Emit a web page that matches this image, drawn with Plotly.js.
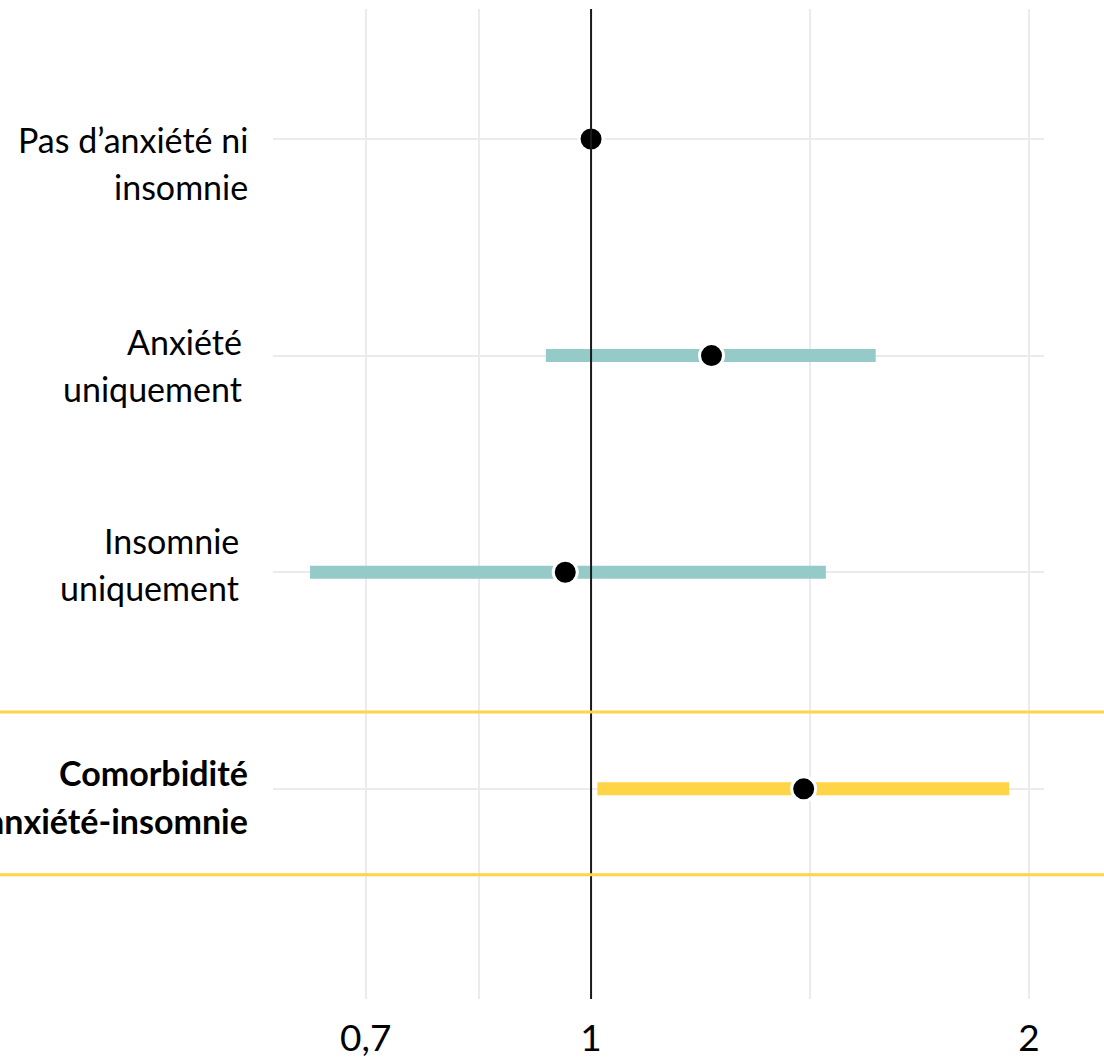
<!DOCTYPE html>
<html>
<head>
<meta charset="utf-8">
<script src="https://cdn.plot.ly/plotly-3.0.1.min.js"></script>
<style>html,body{margin:0;padding:0;background:#fff;}#chart{width:1104px;height:1060px;}</style>
</head>
<body>
<div id="chart"></div>
<script>
// ---- data ----
const categories = ['Pas d’anxiété ni insomnie', 'Anxiété uniquement', 'Insomnie uniquement', 'Comorbidité anxiété-insomnie'];
const labelLine1 = ['Pas d’anxiété ni', 'Anxiété', 'Insomnie', 'Comorbidité'];
const labelLine2 = ['insomnie', 'uniquement', 'uniquement', 'anxiété-insomnie'];
const orValue = [1.00, 1.21, 0.96, 1.40];
const ciLow  = [null, 0.931, 0.641, 1.010];
const ciHigh = [null, 1.569, 1.450, 1.938];
const highlighted = [false, false, false, true];
const xTickVals = [0.7, 0.837, 1, 1.414, 2];
const xTickText = ['0,7', '', '1', '', '2'];

// ---- style ----
const TEAL = '#94CAC8', YELLOW = '#FFD447';
const labelXShift = [2, -4, -7, 2];
const line1YShift = [-1, 14, 32, 16];
const line2YShift = [-48, -33, -15, -32];

function ciTrace(sel, color) {
  const xs = [], ys = [];
  categories.forEach((c, i) => {
    if (ciLow[i] == null || !sel(i)) return;
    xs.push(ciLow[i], ciHigh[i], null);
    ys.push(c, c, null);
  });
  return {type: 'scatter', mode: 'lines', x: xs, y: ys,
    line: {color: color, width: 13}, hoverinfo: 'skip', showlegend: false};
}

const traces = [
  ciTrace(i => !highlighted[i], TEAL),
  ciTrace(i => highlighted[i], YELLOW),
  {type: 'scatter', mode: 'lines', x: [1, 1], y: [0, 1], yaxis: 'y2',
   line: {color: '#1a1a1a', width: 2}, hoverinfo: 'skip', showlegend: false},
  {type: 'scatter', mode: 'markers', x: orValue, y: categories,
   marker: {color: '#000', size: 24, line: {color: '#fff', width: 3}},
   showlegend: false}
];

const annotations = [];
categories.forEach((c, i) => {
  const font = {family: 'Lato, sans-serif', size: 34, color: '#000'};
  const t1 = highlighted[i] ? '<b>' + labelLine1[i] + '</b>' : labelLine1[i];
  const t2 = highlighted[i] ? '<b>' + labelLine2[i] + '</b>' : labelLine2[i];
  annotations.push({xref: 'paper', yref: 'y', x: -0.032, y: c, text: t1, showarrow: false,
    xanchor: 'right', yanchor: 'middle', xshift: labelXShift[i], yshift: line1YShift[i], font: font});
  annotations.push({xref: 'paper', yref: 'y', x: -0.032, y: c, text: t2, showarrow: false,
    xanchor: 'right', yanchor: 'middle', xshift: labelXShift[i], yshift: line2YShift[i], font: font});
});

const shapes = [];
const hiIdx = highlighted.indexOf(true);
[hiIdx - 0.355, hiIdx + 0.397].forEach(yv => {
  shapes.push({type: 'line', xref: 'paper', yref: 'y', x0: -0.36, x1: 1.08, y0: yv, y1: yv,
    line: {color: YELLOW, width: 3}, layer: 'above'});
});

const layout = {
  width: 1104, height: 1060,
  margin: {l: 273, r: 60, t: 9, b: 61},
  paper_bgcolor: '#fff', plot_bgcolor: '#fff',
  showlegend: false,
  xaxis: {type: 'log', range: [-0.2186, 0.3113], tickvals: xTickVals, ticktext: xTickText,
    showgrid: true, gridcolor: '#EBEBEB', gridwidth: 2, zeroline: false, showline: false,
    ticks: '', ticklabelstandoff: 14,
    tickfont: {family: 'Lato, sans-serif', size: 37, color: '#000'}},
  yaxis: {type: 'category', categoryorder: 'array', categoryarray: categories,
    range: [3.97, -0.6], showgrid: true, gridcolor: '#EBEBEB', gridwidth: 2,
    showticklabels: false, ticks: '', zeroline: false, showline: false},
  yaxis2: {overlaying: 'y', range: [0, 1], visible: false, fixedrange: true},
  annotations: annotations,
  shapes: shapes
};

Plotly.newPlot('chart', traces, layout, {displayModeBar: false, staticPlot: true});
</script>
</body>
</html>
